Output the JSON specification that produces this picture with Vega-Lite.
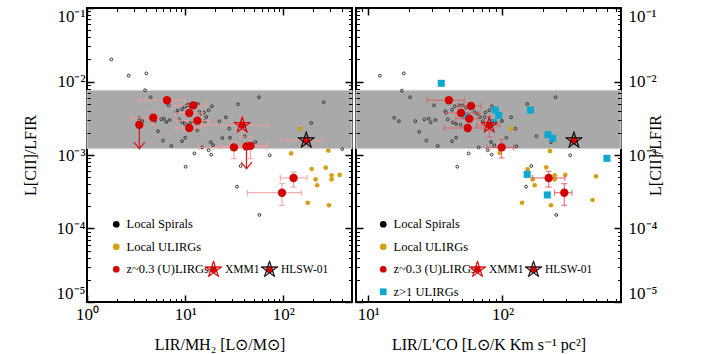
{
"$schema":"https://vega.github.io/schema/vega-lite/v6.json",
"padding":{"left":21,"top":6,"right":0,"bottom":0},
"spacing":0,
"config":{"view":{"stroke":"#000","strokeWidth":2},
"axis":{"labelFont":"Liberation Serif","titleFont":"Liberation Serif","labelColor":"#000","titleColor":"#000","tickColor":"#000","titleFontWeight":"normal","grid":false,"domain":false,"labelFontSize":17,"titleFontSize":16,"labelOverlap":false,"labelFlush":false},
"legend":{"labelFont":"Liberation Serif","labelFontSize":12.5,"labelColor":"#000","padding":0}},
"datasets":{
"band":[{"lo":0.00122,"hi":0.0076}],
"Lsp":[{"x":1.77,"y":0.02},{"x":2.66,"y":0.012},{"x":4.02,"y":0.0129},{"x":3.9,"y":0.00759},{"x":4.45,"y":0.0061},{"x":3.41,"y":0.00318},{"x":3.66,"y":0.0029},{"x":5.28,"y":0.0021},{"x":5.94,"y":0.00157},{"x":7.22,"y":0.00133},{"x":5.71,"y":0.00306},{"x":6.08,"y":0.00312},{"x":6.42,"y":0.00281},{"x":6.95,"y":0.00299},{"x":4.89,"y":0.0029},{"x":6.79,"y":0.00474},{"x":8.11,"y":0.00385},{"x":8.31,"y":0.00401},{"x":9.28,"y":0.00419},{"x":9.89,"y":0.00454},{"x":10.4,"y":0.00474},{"x":10.85,"y":0.00484},{"x":11.5,"y":0.00446},{"x":12.7,"y":0.00494},{"x":13.5,"y":0.00494},{"x":8.59,"y":0.00306},{"x":9.34,"y":0.00281},{"x":9.89,"y":0.00267},{"x":10.7,"y":0.00254},{"x":11.4,"y":0.00281},{"x":13.3,"y":0.00217},{"x":10.0,"y":0.00172},{"x":9.28,"y":0.00154},{"x":14.0,"y":0.00385},{"x":14.6,"y":0.00365},{"x":15.5,"y":0.00377},{"x":16.4,"y":0.00329},{"x":15.8,"y":0.00288},{"x":17.3,"y":0.00406},{"x":18.7,"y":0.0046},{"x":22.3,"y":0.00288},{"x":26.0,"y":0.00326},{"x":23.9,"y":0.0017},{"x":18.2,"y":0.0015},{"x":19.2,"y":0.00136},{"x":17.3,"y":0.00116},{"x":18.4,"y":0.00101},{"x":14.9,"y":0.00127},{"x":12.4,"y":0.00105},{"x":28.1,"y":0.00228},{"x":28.6,"y":0.00172},{"x":40.3,"y":0.0018},{"x":51.8,"y":0.0015},{"x":34.5,"y":0.0049},{"x":56.5,"y":0.0061},{"x":257,"y":0.00521},{"x":192,"y":0.00273},{"x":72.6,"y":0.000991},{"x":398,"y":0.0012},{"x":10.1,"y":0.000693},{"x":36.7,"y":0.000708},{"x":33.7,"y":0.000371},{"x":57.1,"y":0.000153}],
"Lul":[{"x":147,"y":0.00228,"type":"Local ULIRGs"},{"x":120,"y":0.00105,"type":"Local ULIRGs"},{"x":287,"y":0.00115,"type":"Local ULIRGs"},{"x":194,"y":0.000645,"type":"Local ULIRGs"},{"x":270,"y":0.000672,"type":"Local ULIRGs"},{"x":213,"y":0.000467,"type":"Local ULIRGs"},{"x":310,"y":0.00053,"type":"Local ULIRGs"},{"x":374,"y":0.000535,"type":"Local ULIRGs"},{"x":310,"y":0.000467,"type":"Local ULIRGs"},{"x":221,"y":0.000388,"type":"Local ULIRGs"},{"x":177,"y":0.000224,"type":"Local ULIRGs"},{"x":291,"y":0.000207,"type":"Local ULIRGs"}],
"Lz":[{"x":6.53,"y":0.00555,"xlo":3.31,"xhi":9.89,"ylo":0.0051,"yhi":0.006,"lim":null,"name":null},
{"x":4.73,"y":0.00322,"xlo":2.83,"xhi":5.28,"ylo":0.00258,"yhi":0.00392,"lim":null,"name":null},
{"x":3.41,"y":0.00258,"xlo":null,"xhi":null,"ylo":null,"yhi":null,"lim":0.00122,"name":null},
{"x":12.1,"y":0.00474,"xlo":7.69,"xhi":16.4,"ylo":0.0043,"yhi":0.0052,"lim":null,"name":null},
{"x":11.0,"y":0.00373,"xlo":8.0,"xhi":15.0,"ylo":0.0034,"yhi":0.0041,"lim":null,"name":null},
{"x":13.3,"y":0.00293,"xlo":8.31,"xhi":17.8,"ylo":0.0027,"yhi":0.0032,"lim":null,"name":null},
{"x":11.0,"y":0.00233,"xlo":8.06,"xhi":14.5,"ylo":0.0021,"yhi":0.0026,"lim":null,"name":null},
{"x":31.4,"y":0.00127,"xlo":13.8,"xhi":40,"ylo":0.00089,"yhi":0.0015,"lim":null,"name":null},
{"x":42.1,"y":0.00131,"xlo":23,"xhi":68,"ylo":null,"yhi":null,"lim":0.00065,"name":null},
{"x":46.2,"y":0.00133,"xlo":30,"xhi":68,"ylo":0.00089,"yhi":0.00176,"lim":null,"name":null},
{"x":127,"y":0.000487,"xlo":93,"xhi":174,"ylo":0.000367,"yhi":0.000588,"lim":null,"name":null},
{"x":96.8,"y":0.000307,"xlo":42.9,"xhi":152,"ylo":0.000207,"yhi":0.000407,"lim":null,"name":null},
{"x":38.1,"y":0.00254,"xlo":14.6,"xhi":68.5,"ylo":0.00176,"yhi":0.00337,"lim":null,"name":"XMM1"},
{"x":171,"y":0.00158,"xlo":95.2,"xhi":249,"ylo":null,"yhi":null,"lim":null,"name":"HLSW-01"}],
"Rsp":[{"x":12.2,"y":0.012},{"x":18.4,"y":0.0129},{"x":17.8,"y":0.0075},{"x":20.5,"y":0.0061},{"x":15.6,"y":0.00322},{"x":16.9,"y":0.00288},{"x":22.4,"y":0.00288},{"x":26.2,"y":0.00305},{"x":28.2,"y":0.00312},{"x":29.2,"y":0.00278},{"x":31.6,"y":0.00299},{"x":24.0,"y":0.00207},{"x":27.1,"y":0.00157},{"x":32.9,"y":0.00133},{"x":30.9,"y":0.00474},{"x":37.5,"y":0.00394},{"x":37.9,"y":0.00377},{"x":42.1,"y":0.00413},{"x":44.1,"y":0.0046},{"x":47.7,"y":0.00474},{"x":50.5,"y":0.00474},{"x":53.5,"y":0.00441},{"x":59.3,"y":0.0049},{"x":39.1,"y":0.00306},{"x":42.6,"y":0.00278},{"x":45.1,"y":0.00264},{"x":48.8,"y":0.00258},{"x":45.1,"y":0.00172},{"x":42.1,"y":0.00154},{"x":56.0,"y":0.00105},{"x":66.5,"y":0.00127},{"x":64.9,"y":0.00365},{"x":62.1,"y":0.00385},{"x":68.0,"y":0.00329},{"x":71.2,"y":0.00288},{"x":74.5,"y":0.00377},{"x":79.8,"y":0.00406},{"x":83.5,"y":0.0046},{"x":73.7,"y":0.00326},{"x":99.2,"y":0.0029},{"x":116,"y":0.00326},{"x":125,"y":0.00228},{"x":107,"y":0.00172},{"x":82.1,"y":0.0015},{"x":86.9,"y":0.00136},{"x":127,"y":0.00131},{"x":77.6,"y":0.00116},{"x":83.1,"y":0.00101},{"x":153,"y":0.00494},{"x":249,"y":0.0061},{"x":179,"y":0.0018},{"x":230,"y":0.0015},{"x":320,"y":0.000991},{"x":46.1,"y":0.000693},{"x":164,"y":0.000708},{"x":150,"y":0.000371},{"x":252,"y":0.000153}],
"Rul":[{"x":95.3,"y":0.00107,"type":"Local ULIRGs"},{"x":116,"y":0.00228,"type":"Local ULIRGs"},{"x":226,"y":0.00113,"type":"Local ULIRGs"},{"x":212,"y":0.00068,"type":"Local ULIRGs"},{"x":154,"y":0.000639,"type":"Local ULIRGs"},{"x":168,"y":0.000467,"type":"Local ULIRGs"},{"x":245,"y":0.00053,"type":"Local ULIRGs"},{"x":245,"y":0.000467,"type":"Local ULIRGs"},{"x":294,"y":0.000535,"type":"Local ULIRGs"},{"x":174,"y":0.000388,"type":"Local ULIRGs"},{"x":498,"y":0.000513,"type":"Local ULIRGs"},{"x":140,"y":0.000224,"type":"Local ULIRGs"},{"x":230,"y":0.000207,"type":"Local ULIRGs"},{"x":470,"y":0.000244,"type":"Local ULIRGs"}],
"Rhz":[{"x":35.0,"y":0.00945},{"x":88.4,"y":0.00409},{"x":93.7,"y":0.00347},{"x":162,"y":0.00409},{"x":86.0,"y":0.00276},{"x":53.5,"y":0.00341},{"x":218,"y":0.00189},{"x":237,"y":0.00169},{"x":601,"y":0.000902},{"x":153,"y":0.000546},{"x":216,"y":0.000286}],
"Rz":[{"x":39.9,"y":0.00555,"xlo":27.4,"xhi":51.9,"ylo":0.0051,"yhi":0.006,"lim":null,"name":null},
{"x":58.3,"y":0.00465,"xlo":46.4,"xhi":69.2,"ylo":0.0043,"yhi":0.0051,"lim":null,"name":null},
{"x":49.1,"y":0.00373,"xlo":37.5,"xhi":68,"ylo":0.0034,"yhi":0.0041,"lim":null,"name":null},
{"x":56.6,"y":0.00312,"xlo":45,"xhi":66,"ylo":0.0029,"yhi":0.0034,"lim":null,"name":null},
{"x":55.1,"y":0.00233,"xlo":36.9,"xhi":73.2,"ylo":0.0021,"yhi":0.0026,"lim":null,"name":null},
{"x":98.7,"y":0.00127,"xlo":76.7,"xhi":121,"ylo":0.000911,"yhi":0.00163,"lim":null,"name":null},
{"x":221,"y":0.000487,"xlo":168,"xhi":292,"ylo":0.000367,"yhi":0.0006,"lim":null,"name":null},
{"x":289,"y":0.000307,"xlo":245,"xhi":330,"ylo":0.000207,"yhi":0.000407,"lim":null,"name":null},
{"x":79.8,"y":0.00254,"xlo":64.1,"xhi":95.5,"ylo":0.00176,"yhi":0.00337,"lim":null,"name":"XMM1"},
{"x":341,"y":0.00158,"xlo":null,"xhi":null,"ylo":null,"yhi":null,"lim":null,"name":"HLSW-01"}]
},
"hconcat":[
{"width":265,"height":294,
"resolve":{"axis":{"x":"independent","y":"independent"}},
"layer":[
{"data":{"name":"band"},"mark":{"type":"rect","color":"#a9a9a9","stroke":"#d4d4d4","strokeWidth":1},"encoding":{"y":{"field":"lo","type":"quantitative","scale":{"type":"log","domain":[0.00001,0.1],"nice":false},"axis":null},"y2":{"field":"hi"}}},
{"data":{"name":"Lsp"},"mark":{"type":"point","opacity":0},"encoding":{
"x":{"field":"x","type":"quantitative","scale":{"type":"log","domain":[1,500],"nice":false},"axis":{"orient":"bottom","values":[1,10,100],"ticks":false,"labelExpr":"datum.value < 3 ? '10⁰' : datum.value < 30 ? '10¹' : '10²'","labelPadding":4,"title":"LIR/MH₂  [L⊙/M⊙]","titlePadding":14}},
"y":{"field":"y","type":"quantitative","scale":{"type":"log","domain":[0.00001,0.1],"nice":false},"axis":{"orient":"left","values":[0.00001,0.0001,0.001,0.01,0.1],"ticks":false,"labelFlush":true,"labelExpr":"datum.value < 3e-5 ? '10⁻⁵' : datum.value < 3e-4 ? '10⁻⁴' : datum.value < 3e-3 ? '10⁻³' : datum.value < 3e-2 ? '10⁻²' : '10⁻¹'","labelPadding":2,"title":"L[CII]/LFIR","titlePadding":18}}}},
{"data":{"name":"Lsp"},"mark":{"type":"point","opacity":0},"encoding":{
"x":{"field":"x","type":"quantitative","scale":{"type":"log","domain":[1,500],"nice":false},"axis":{"orient":"bottom","values":[1,10,100],"labels":false,"tickSize":-7,"tickWidth":1.5,"title":null,"zindex":1}},
"y":{"field":"y","type":"quantitative","scale":{"type":"log","domain":[0.00001,0.1],"nice":false},"axis":{"orient":"left","values":[0.00001,0.0001,0.001,0.01,0.1],"labels":false,"tickSize":-7,"tickWidth":1.5,"title":null,"zindex":1}}}},
{"data":{"name":"Lsp"},"mark":{"type":"point","opacity":0},"encoding":{
"x":{"field":"x","type":"quantitative","scale":{"type":"log","domain":[1,500],"nice":false},"axis":{"orient":"bottom","values":[2,3,4,5,6,7,8,9,20,30,40,50,60,70,80,90,200,300,400],"labels":false,"tickSize":-3.5,"tickWidth":1,"title":null,"zindex":1}},
"y":{"field":"y","type":"quantitative","scale":{"type":"log","domain":[0.00001,0.1],"nice":false},"axis":{"orient":"left","values":[2e-5,3e-5,4e-5,5e-5,6e-5,7e-5,8e-5,9e-5,2e-4,3e-4,4e-4,5e-4,6e-4,7e-4,8e-4,9e-4,2e-3,3e-3,4e-3,5e-3,6e-3,7e-3,8e-3,9e-3,2e-2,3e-2,4e-2,5e-2,6e-2,7e-2,8e-2,9e-2],"labels":false,"tickSize":-3.5,"tickWidth":1,"title":null,"zindex":1}}}},
{"data":{"name":"Lsp"},"mark":{"type":"point","opacity":0},"encoding":{
"x":{"field":"x","type":"quantitative","scale":{"type":"log","domain":[1,500],"nice":false},"axis":{"orient":"top","values":[1,10,100],"labels":false,"tickSize":-7,"tickWidth":1.5,"title":null,"zindex":1}},
"y":{"field":"y","type":"quantitative","scale":{"type":"log","domain":[0.00001,0.1],"nice":false},"axis":{"orient":"right","values":[0.00001,0.0001,0.001,0.01,0.1],"labels":false,"tickSize":-7,"tickWidth":1.5,"title":null,"zindex":1}}}},
{"data":{"name":"Lsp"},"mark":{"type":"point","opacity":0},"encoding":{
"x":{"field":"x","type":"quantitative","scale":{"type":"log","domain":[1,500],"nice":false},"axis":{"orient":"top","values":[2,3,4,5,6,7,8,9,20,30,40,50,60,70,80,90,200,300,400],"labels":false,"tickSize":-3.5,"tickWidth":1,"title":null,"zindex":1}},
"y":{"field":"y","type":"quantitative","scale":{"type":"log","domain":[0.00001,0.1],"nice":false},"axis":{"orient":"right","values":[2e-5,3e-5,4e-5,5e-5,6e-5,7e-5,8e-5,9e-5,2e-4,3e-4,4e-4,5e-4,6e-4,7e-4,8e-4,9e-4,2e-3,3e-3,4e-3,5e-3,6e-3,7e-3,8e-3,9e-3,2e-2,3e-2,4e-2,5e-2,6e-2,7e-2,8e-2,9e-2],"labels":false,"tickSize":-3.5,"tickWidth":1,"title":null,"zindex":1}}}},
{"data":{"name":"Lsp"},"mark":{"type":"point","filled":false,"stroke":"#333","strokeWidth":1,"size":8,"opacity":1},"encoding":{
"x":{"field":"x","type":"quantitative","scale":{"type":"log","domain":[1,500],"nice":false},"axis":null},
"y":{"field":"y","type":"quantitative","scale":{"type":"log","domain":[0.00001,0.1],"nice":false},"axis":null}}},
{"data":{"name":"Lul"},"mark":{"type":"point","filled":true,"size":22,"opacity":1},"encoding":{
"x":{"field":"x","type":"quantitative","scale":{"type":"log","domain":[1,500],"nice":false},"axis":null},
"y":{"field":"y","type":"quantitative","scale":{"type":"log","domain":[0.00001,0.1],"nice":false},"axis":null},
"color":{"field":"type","type":"nominal","scale":{"domain":["Local Spirals","Local ULIRGs","z~0.3 (U)LIRGs"],"range":["#000000","#d4a017","#d40000"]},"legend":{"orient":"none","legendX":23,"legendY":210,"title":null,"symbolSize":45,"rowPadding":9.5,"labelOffset":4}},
"shape":{"field":"type","type":"nominal","scale":{"domain":["Local Spirals","Local ULIRGs","z~0.3 (U)LIRGs"],"range":["circle","circle","circle"]},"legend":{"orient":"none","legendX":23,"legendY":210,"title":null,"symbolSize":45,"rowPadding":9.5,"labelOffset":4}}}},
{"data":{"name":"Lz"},"transform":[{"filter":"isValid(datum.xlo)"}],"mark":{"type":"rule","color":"#f09c9c","strokeWidth":1},"encoding":{
"x":{"field":"xlo","type":"quantitative","scale":{"type":"log","domain":[1,500],"nice":false},"axis":null},"x2":{"field":"xhi"},
"y":{"field":"y","type":"quantitative","scale":{"type":"log","domain":[0.00001,0.1],"nice":false},"axis":null}}},
{"data":{"name":"Lz"},"transform":[{"filter":"isValid(datum.ylo)"}],"mark":{"type":"rule","color":"#f09c9c","strokeWidth":1},"encoding":{
"x":{"field":"x","type":"quantitative","scale":{"type":"log","domain":[1,500],"nice":false},"axis":null},
"y":{"field":"ylo","type":"quantitative","scale":{"type":"log","domain":[0.00001,0.1],"nice":false},"axis":null},"y2":{"field":"yhi"}}},
{"data":{"name":"Lz"},"transform":[{"filter":"isValid(datum.xlo)"}],"mark":{"type":"tick","orient":"vertical","color":"#f09c9c","size":6,"thickness":1,"opacity":1},"encoding":{
"x":{"field":"xlo","type":"quantitative","scale":{"type":"log","domain":[1,500],"nice":false},"axis":null},
"y":{"field":"y","type":"quantitative","scale":{"type":"log","domain":[0.00001,0.1],"nice":false},"axis":null}}},
{"data":{"name":"Lz"},"transform":[{"filter":"isValid(datum.xhi)"}],"mark":{"type":"tick","orient":"vertical","color":"#f09c9c","size":6,"thickness":1,"opacity":1},"encoding":{
"x":{"field":"xhi","type":"quantitative","scale":{"type":"log","domain":[1,500],"nice":false},"axis":null},
"y":{"field":"y","type":"quantitative","scale":{"type":"log","domain":[0.00001,0.1],"nice":false},"axis":null}}},
{"data":{"name":"Lz"},"transform":[{"filter":"isValid(datum.ylo)"}],"mark":{"type":"tick","orient":"horizontal","color":"#f09c9c","size":6,"thickness":1,"opacity":1},"encoding":{
"x":{"field":"x","type":"quantitative","scale":{"type":"log","domain":[1,500],"nice":false},"axis":null},
"y":{"field":"ylo","type":"quantitative","scale":{"type":"log","domain":[0.00001,0.1],"nice":false},"axis":null}}},
{"data":{"name":"Lz"},"transform":[{"filter":"isValid(datum.yhi)"}],"mark":{"type":"tick","orient":"horizontal","color":"#f09c9c","size":6,"thickness":1,"opacity":1},"encoding":{
"x":{"field":"x","type":"quantitative","scale":{"type":"log","domain":[1,500],"nice":false},"axis":null},
"y":{"field":"yhi","type":"quantitative","scale":{"type":"log","domain":[0.00001,0.1],"nice":false},"axis":null}}},
{"data":{"name":"Lz"},"transform":[{"filter":"isValid(datum.lim)"}],"mark":{"type":"rule","color":"#d42020","strokeWidth":1.3},"encoding":{
"x":{"field":"x","type":"quantitative","scale":{"type":"log","domain":[1,500],"nice":false},"axis":null},
"y":{"field":"y","type":"quantitative","scale":{"type":"log","domain":[0.00001,0.1],"nice":false},"axis":null},"y2":{"field":"lim"}}},
{"data":{"name":"Lz"},"transform":[{"filter":"isValid(datum.lim)"}],"mark":{"type":"point","shape":"M-1,-1.2L0,0L1,-1.2","filled":false,"stroke":"#d42020","strokeWidth":1.3,"size":121,"opacity":1},"encoding":{
"x":{"field":"x","type":"quantitative","scale":{"type":"log","domain":[1,500],"nice":false},"axis":null},
"y":{"field":"lim","type":"quantitative","scale":{"type":"log","domain":[0.00001,0.1],"nice":false},"axis":null}}},
{"data":{"name":"Lz"},"transform":[{"filter":"!isValid(datum.name)"}],"mark":{"type":"point","filled":true,"color":"#d40000","size":70,"opacity":1},"encoding":{
"x":{"field":"x","type":"quantitative","scale":{"type":"log","domain":[1,500],"nice":false},"axis":null},
"y":{"field":"y","type":"quantitative","scale":{"type":"log","domain":[0.00001,0.1],"nice":false},"axis":null}}},
{"data":{"name":"Lz"},"transform":[{"filter":"isValid(datum.name)"}],"mark":{"type":"point","shape":"M0,-1L0.2245,-0.309L0.951,-0.309L0.363,0.118L0.588,0.809L0,0.382L-0.588,0.809L-0.363,0.118L-0.951,-0.309L-0.2245,-0.309ZM0,-0.84L-0.1886,-0.2596L-0.7988,-0.2596L-0.3049,0.0991L-0.4939,0.6796L0,0.3209L0.4939,0.6796L0.3049,0.0991L0.7988,-0.2596L0.1886,-0.2596ZM0.36,0A0.36,0.36,0,1,1,-0.36,0A0.36,0.36,0,1,1,0.36,0Z","filled":true,"fill":"#d40000","strokeWidth":0.7,"size":320,"opacity":1},"encoding":{
"x":{"field":"x","type":"quantitative","scale":{"type":"log","domain":[1,500],"nice":false},"axis":null},
"y":{"field":"y","type":"quantitative","scale":{"type":"log","domain":[0.00001,0.1],"nice":false},"axis":null},
"stroke":{"field":"name","type":"nominal","scale":{"domain":["XMM1","HLSW-01"],"range":["#d40000","#000000"]},"legend":{"orient":"none","legendX":117,"legendY":251.7,"direction":"horizontal","columns":2,"title":null,"symbolType":"M0,-1L0.2245,-0.309L0.951,-0.309L0.363,0.118L0.588,0.809L0,0.382L-0.588,0.809L-0.363,0.118L-0.951,-0.309L-0.2245,-0.309ZM0,-0.84L-0.1886,-0.2596L-0.7988,-0.2596L-0.3049,0.0991L-0.4939,0.6796L0,0.3209L0.4939,0.6796L0.3049,0.0991L0.7988,-0.2596L0.1886,-0.2596ZM0.36,0A0.36,0.36,0,1,1,-0.36,0A0.36,0.36,0,1,1,0.36,0Z","symbolSize":320,"symbolFillColor":"#d40000","symbolStrokeWidth":0.7,"labelOffset":2,"labelFontSize":11.5,"columnPadding":-3}}}}
]},
{"width":265,"height":294,
"resolve":{"axis":{"x":"independent","y":"independent"}},
"layer":[
{"data":{"name":"band"},"mark":{"type":"rect","color":"#a9a9a9","stroke":"#d4d4d4","strokeWidth":1},"encoding":{"y":{"field":"lo","type":"quantitative","scale":{"type":"log","domain":[0.00001,0.1],"nice":false},"axis":null},"y2":{"field":"hi"}}},
{"data":{"name":"Rsp"},"mark":{"type":"point","opacity":0},"encoding":{
"x":{"field":"x","type":"quantitative","scale":{"type":"log","domain":[8.1,765],"nice":false},"axis":{"orient":"bottom","values":[10,100],"ticks":false,"labelExpr":"datum.value < 30 ? '10¹' : '10²'","labelPadding":4,"title":"LIR/L′CO    [L⊙/K Km s⁻¹ pc²]","titlePadding":14}},
"y":{"field":"y","type":"quantitative","scale":{"type":"log","domain":[0.00001,0.1],"nice":false},"axis":{"orient":"right","values":[0.00001,0.0001,0.001,0.01,0.1],"ticks":false,"labelFlush":true,"labelExpr":"datum.value < 3e-5 ? '10⁻⁵' : datum.value < 3e-4 ? '10⁻⁴' : datum.value < 3e-3 ? '10⁻³' : datum.value < 3e-2 ? '10⁻²' : '10⁻¹'","labelPadding":7,"title":"L[CII]/LFIR","titleAngle":270,"titlePadding":7}}}},
{"data":{"name":"Rsp"},"mark":{"type":"point","opacity":0},"encoding":{
"x":{"field":"x","type":"quantitative","scale":{"type":"log","domain":[8.1,765],"nice":false},"axis":{"orient":"bottom","values":[10,100],"labels":false,"tickSize":-7,"tickWidth":1.5,"title":null,"zindex":1}},
"y":{"field":"y","type":"quantitative","scale":{"type":"log","domain":[0.00001,0.1],"nice":false},"axis":{"orient":"left","values":[0.00001,0.0001,0.001,0.01,0.1],"labels":false,"tickSize":-7,"tickWidth":1.5,"title":null,"zindex":1}}}},
{"data":{"name":"Rsp"},"mark":{"type":"point","opacity":0},"encoding":{
"x":{"field":"x","type":"quantitative","scale":{"type":"log","domain":[8.1,765],"nice":false},"axis":{"orient":"bottom","values":[9,20,30,40,50,60,70,80,90,200,300,400,500,600,700],"labels":false,"tickSize":-3.5,"tickWidth":1,"title":null,"zindex":1}},
"y":{"field":"y","type":"quantitative","scale":{"type":"log","domain":[0.00001,0.1],"nice":false},"axis":{"orient":"left","values":[2e-5,3e-5,4e-5,5e-5,6e-5,7e-5,8e-5,9e-5,2e-4,3e-4,4e-4,5e-4,6e-4,7e-4,8e-4,9e-4,2e-3,3e-3,4e-3,5e-3,6e-3,7e-3,8e-3,9e-3,2e-2,3e-2,4e-2,5e-2,6e-2,7e-2,8e-2,9e-2],"labels":false,"tickSize":-3.5,"tickWidth":1,"title":null,"zindex":1}}}},
{"data":{"name":"Rsp"},"mark":{"type":"point","opacity":0},"encoding":{
"x":{"field":"x","type":"quantitative","scale":{"type":"log","domain":[8.1,765],"nice":false},"axis":{"orient":"top","values":[10,100],"labels":false,"tickSize":-7,"tickWidth":1.5,"title":null,"zindex":1}},
"y":{"field":"y","type":"quantitative","scale":{"type":"log","domain":[0.00001,0.1],"nice":false},"axis":{"orient":"right","values":[0.00001,0.0001,0.001,0.01,0.1],"labels":false,"tickSize":-7,"tickWidth":1.5,"title":null,"zindex":1}}}},
{"data":{"name":"Rsp"},"mark":{"type":"point","opacity":0},"encoding":{
"x":{"field":"x","type":"quantitative","scale":{"type":"log","domain":[8.1,765],"nice":false},"axis":{"orient":"top","values":[9,20,30,40,50,60,70,80,90,200,300,400,500,600,700],"labels":false,"tickSize":-3.5,"tickWidth":1,"title":null,"zindex":1}},
"y":{"field":"y","type":"quantitative","scale":{"type":"log","domain":[0.00001,0.1],"nice":false},"axis":{"orient":"right","values":[2e-5,3e-5,4e-5,5e-5,6e-5,7e-5,8e-5,9e-5,2e-4,3e-4,4e-4,5e-4,6e-4,7e-4,8e-4,9e-4,2e-3,3e-3,4e-3,5e-3,6e-3,7e-3,8e-3,9e-3,2e-2,3e-2,4e-2,5e-2,6e-2,7e-2,8e-2,9e-2],"labels":false,"tickSize":-3.5,"tickWidth":1,"title":null,"zindex":1}}}},
{"data":{"name":"Rsp"},"mark":{"type":"point","filled":false,"stroke":"#333","strokeWidth":1,"size":8,"opacity":1},"encoding":{
"x":{"field":"x","type":"quantitative","scale":{"type":"log","domain":[8.1,765],"nice":false},"axis":null},
"y":{"field":"y","type":"quantitative","scale":{"type":"log","domain":[0.00001,0.1],"nice":false},"axis":null}}},
{"data":{"name":"Rul"},"mark":{"type":"point","filled":true,"size":22,"opacity":1},"encoding":{
"x":{"field":"x","type":"quantitative","scale":{"type":"log","domain":[8.1,765],"nice":false},"axis":null},
"y":{"field":"y","type":"quantitative","scale":{"type":"log","domain":[0.00001,0.1],"nice":false},"axis":null},
"color":{"field":"type","type":"nominal","scale":{"domain":["Local Spirals","Local ULIRGs","z~0.3 (U)LIRGs","z>1 ULIRGs"],"range":["#000000","#d4a017","#d40000","#10a8d0"]},"legend":{"orient":"none","legendX":21,"legendY":210,"title":null,"symbolSize":45,"rowPadding":9.5,"labelOffset":4}},
"shape":{"field":"type","type":"nominal","scale":{"domain":["Local Spirals","Local ULIRGs","z~0.3 (U)LIRGs","z>1 ULIRGs"],"range":["circle","circle","circle","square"]},"legend":{"orient":"none","legendX":21,"legendY":210,"title":null,"symbolSize":45,"rowPadding":9.5,"labelOffset":4}}}},
{"data":{"name":"Rhz"},"mark":{"type":"point","filled":true,"shape":"square","color":"#10a8d0","size":50,"opacity":1},"encoding":{
"x":{"field":"x","type":"quantitative","scale":{"type":"log","domain":[8.1,765],"nice":false},"axis":null},
"y":{"field":"y","type":"quantitative","scale":{"type":"log","domain":[0.00001,0.1],"nice":false},"axis":null}}},
{"data":{"name":"Rz"},"transform":[{"filter":"isValid(datum.xlo)"}],"mark":{"type":"rule","color":"#e06262","strokeWidth":1},"encoding":{
"x":{"field":"xlo","type":"quantitative","scale":{"type":"log","domain":[8.1,765],"nice":false},"axis":null},"x2":{"field":"xhi"},
"y":{"field":"y","type":"quantitative","scale":{"type":"log","domain":[0.00001,0.1],"nice":false},"axis":null}}},
{"data":{"name":"Rz"},"transform":[{"filter":"isValid(datum.ylo)"}],"mark":{"type":"rule","color":"#e06262","strokeWidth":1},"encoding":{
"x":{"field":"x","type":"quantitative","scale":{"type":"log","domain":[8.1,765],"nice":false},"axis":null},
"y":{"field":"ylo","type":"quantitative","scale":{"type":"log","domain":[0.00001,0.1],"nice":false},"axis":null},"y2":{"field":"yhi"}}},
{"data":{"name":"Rz"},"transform":[{"filter":"isValid(datum.xlo)"}],"mark":{"type":"tick","orient":"vertical","color":"#e06262","size":6,"thickness":1,"opacity":1},"encoding":{
"x":{"field":"xlo","type":"quantitative","scale":{"type":"log","domain":[8.1,765],"nice":false},"axis":null},
"y":{"field":"y","type":"quantitative","scale":{"type":"log","domain":[0.00001,0.1],"nice":false},"axis":null}}},
{"data":{"name":"Rz"},"transform":[{"filter":"isValid(datum.xhi)"}],"mark":{"type":"tick","orient":"vertical","color":"#e06262","size":6,"thickness":1,"opacity":1},"encoding":{
"x":{"field":"xhi","type":"quantitative","scale":{"type":"log","domain":[8.1,765],"nice":false},"axis":null},
"y":{"field":"y","type":"quantitative","scale":{"type":"log","domain":[0.00001,0.1],"nice":false},"axis":null}}},
{"data":{"name":"Rz"},"transform":[{"filter":"isValid(datum.ylo)"}],"mark":{"type":"tick","orient":"horizontal","color":"#e06262","size":6,"thickness":1,"opacity":1},"encoding":{
"x":{"field":"x","type":"quantitative","scale":{"type":"log","domain":[8.1,765],"nice":false},"axis":null},
"y":{"field":"ylo","type":"quantitative","scale":{"type":"log","domain":[0.00001,0.1],"nice":false},"axis":null}}},
{"data":{"name":"Rz"},"transform":[{"filter":"isValid(datum.yhi)"}],"mark":{"type":"tick","orient":"horizontal","color":"#e06262","size":6,"thickness":1,"opacity":1},"encoding":{
"x":{"field":"x","type":"quantitative","scale":{"type":"log","domain":[8.1,765],"nice":false},"axis":null},
"y":{"field":"yhi","type":"quantitative","scale":{"type":"log","domain":[0.00001,0.1],"nice":false},"axis":null}}},
{"data":{"name":"Rz"},"transform":[{"filter":"!isValid(datum.name)"}],"mark":{"type":"point","filled":true,"color":"#d40000","size":70,"opacity":1},"encoding":{
"x":{"field":"x","type":"quantitative","scale":{"type":"log","domain":[8.1,765],"nice":false},"axis":null},
"y":{"field":"y","type":"quantitative","scale":{"type":"log","domain":[0.00001,0.1],"nice":false},"axis":null}}},
{"data":{"name":"Rz"},"transform":[{"filter":"isValid(datum.name)"}],"mark":{"type":"point","shape":"M0,-1L0.2245,-0.309L0.951,-0.309L0.363,0.118L0.588,0.809L0,0.382L-0.588,0.809L-0.363,0.118L-0.951,-0.309L-0.2245,-0.309ZM0,-0.84L-0.1886,-0.2596L-0.7988,-0.2596L-0.3049,0.0991L-0.4939,0.6796L0,0.3209L0.4939,0.6796L0.3049,0.0991L0.7988,-0.2596L0.1886,-0.2596ZM0.36,0A0.36,0.36,0,1,1,-0.36,0A0.36,0.36,0,1,1,0.36,0Z","filled":true,"fill":"#d40000","strokeWidth":0.7,"size":320,"opacity":1},"encoding":{
"x":{"field":"x","type":"quantitative","scale":{"type":"log","domain":[8.1,765],"nice":false},"axis":null},
"y":{"field":"y","type":"quantitative","scale":{"type":"log","domain":[0.00001,0.1],"nice":false},"axis":null},
"stroke":{"field":"name","type":"nominal","scale":{"domain":["XMM1","HLSW-01"],"range":["#d40000","#000000"]},"legend":{"orient":"none","legendX":112,"legendY":251.7,"direction":"horizontal","columns":2,"title":null,"symbolType":"M0,-1L0.2245,-0.309L0.951,-0.309L0.363,0.118L0.588,0.809L0,0.382L-0.588,0.809L-0.363,0.118L-0.951,-0.309L-0.2245,-0.309ZM0,-0.84L-0.1886,-0.2596L-0.7988,-0.2596L-0.3049,0.0991L-0.4939,0.6796L0,0.3209L0.4939,0.6796L0.3049,0.0991L0.7988,-0.2596L0.1886,-0.2596ZM0.36,0A0.36,0.36,0,1,1,-0.36,0A0.36,0.36,0,1,1,0.36,0Z","symbolSize":320,"symbolFillColor":"#d40000","symbolStrokeWidth":0.7,"labelOffset":2,"labelFontSize":11.5,"columnPadding":-3}}}}
]}
],
"resolve":{"scale":{"x":"independent","y":"independent","color":"independent","shape":"independent","stroke":"independent"},"legend":{"color":"independent","shape":"independent","stroke":"independent"}}
}
